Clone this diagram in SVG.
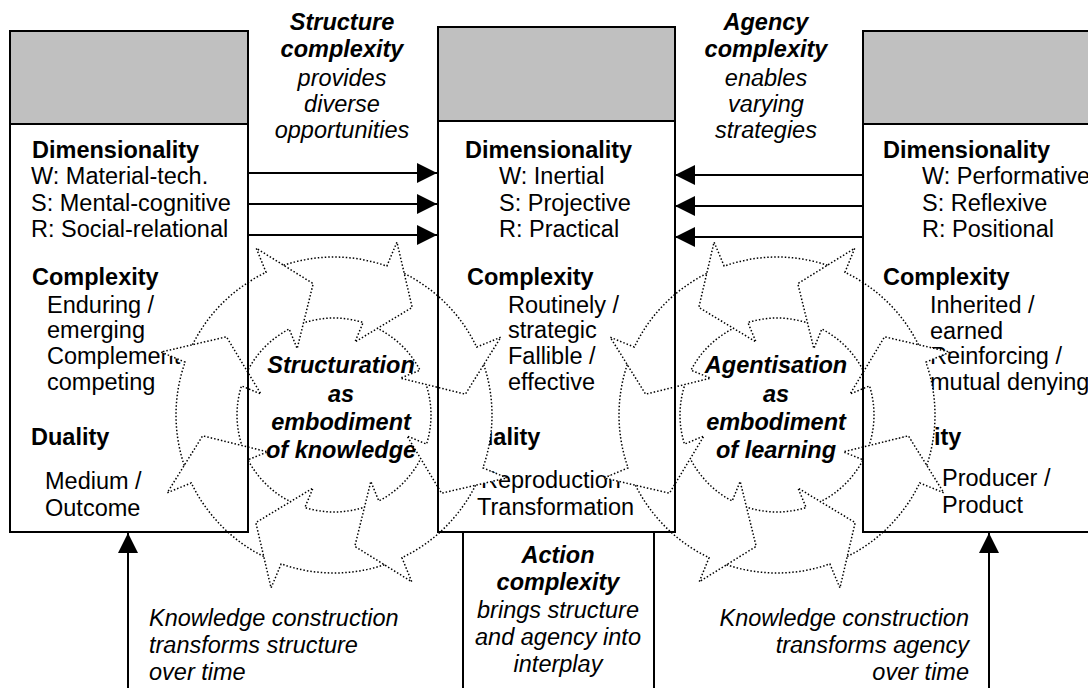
<svg xmlns="http://www.w3.org/2000/svg" width="1088" height="688" viewBox="0 0 1088 688">
  <style>
    text { font-family: "Liberation Sans", Arial, sans-serif; font-size: 23.5px; fill: #000; }
    .b { font-weight: bold; }
    .i { font-style: italic; }
    .bi { font-weight: bold; font-style: italic; }
    .mid { text-anchor: middle; }
    .end { text-anchor: end; }
    .panel { fill: #fff; }
    .cap { fill: #c0c0c0; }
    .frame { fill: none; stroke: #000; stroke-width: 2; }
    .flow { fill: none; stroke: #000; stroke-width: 2; }
    .seg-fill { fill: #fff; stroke: none; }
    .seg-line { fill: none; stroke: #000; stroke-width: 1.5; stroke-dasharray: 1.5 2; }
  </style>
  <defs>
    <marker id="ah" markerUnits="userSpaceOnUse" markerWidth="20" markerHeight="20" viewBox="0 0 20 20" refX="20" refY="10" orient="auto">
      <path d="M0,0 L20,10 L0,20 Z" fill="#000"/>
    </marker>
    <!-- one curved arrow of a cycle, head at angle 0, tail notched to the previous head at -45 deg -->
    <path id="seg-fill" class="seg-fill" d="M123.48,-98.57 A158,158 0 0 1 157.99,-1.27 L184,0 L127.85,36.66 L75.81,-5.30 L96.90,-4.27 A97,97 0 0 0 76.09,-60.16 L116.32,-64.48 Z"/>
    <path id="seg-line" class="seg-line" d="M123.48,-98.57 A158,158 0 0 1 157.99,-1.27 L184,0 L127.85,36.66 L75.81,-5.30 L96.90,-4.27 A97,97 0 0 0 76.09,-60.16"/>
    <g id="cycle">
      <use href="#seg-fill" transform="rotate(20)"/>
      <use href="#seg-fill" transform="rotate(65)"/>
      <use href="#seg-fill" transform="rotate(110)"/>
      <use href="#seg-fill" transform="rotate(155)"/>
      <use href="#seg-fill" transform="rotate(200)"/>
      <use href="#seg-fill" transform="rotate(245)"/>
      <use href="#seg-fill" transform="rotate(290)"/>
      <use href="#seg-fill" transform="rotate(335)"/>
      <use href="#seg-line" transform="rotate(20)"/>
      <use href="#seg-line" transform="rotate(65)"/>
      <use href="#seg-line" transform="rotate(110)"/>
      <use href="#seg-line" transform="rotate(155)"/>
      <use href="#seg-line" transform="rotate(200)"/>
      <use href="#seg-line" transform="rotate(245)"/>
      <use href="#seg-line" transform="rotate(290)"/>
      <use href="#seg-line" transform="rotate(335)"/>
    </g>
  </defs>

  <!-- Structure box -->
  <g id="structure">
    <rect class="panel" x="10" y="31" width="238" height="501"/>
    <rect class="cap" x="10" y="31" width="238" height="93"/>
    <text class="b" x="32" y="158">Dimensionality</text>
    <text x="31" y="184">W: Material-tech.</text>
    <text x="31" y="211">S: Mental-cognitive</text>
    <text x="31" y="237">R: Social-relational</text>
    <text class="b" x="32" y="285">Complexity</text>
    <text x="47" y="313">Enduring /</text>
    <text x="47" y="338">emerging</text>
    <text x="47" y="364">Complement</text>
    <text x="47" y="390">competing</text>
    <text class="b" x="31" y="445">Duality</text>
    <text x="45" y="489">Medium /</text>
    <text x="45" y="516">Outcome</text>
  </g>

  <!-- Action box -->
  <g id="action">
    <rect class="panel" x="438" y="27" width="237" height="505"/>
    <rect class="cap" x="438" y="27" width="237" height="94"/>
    <text class="b" x="465" y="158">Dimensionality</text>
    <text x="499" y="184">W: Inertial</text>
    <text x="499" y="211">S: Projective</text>
    <text x="499" y="237">R: Practical</text>
    <text class="b" x="467" y="285">Complexity</text>
    <text x="508" y="313">Routinely /</text>
    <text x="508" y="338">strategic</text>
    <text x="508" y="364">Fallible /</text>
    <text x="508" y="390">effective</text>
    <text class="b" x="462" y="445">Duality</text>
    <text x="481" y="488">Reproduction</text>
    <text x="477" y="515">Transformation</text>
  </g>

  <!-- Agency box -->
  <g id="agency">
    <rect class="panel" x="863" y="31" width="240" height="501"/>
    <rect class="cap" x="863" y="31" width="240" height="93"/>
    <text class="b" x="883" y="158">Dimensionality</text>
    <text x="922" y="184">W: Performative</text>
    <text x="922" y="211">S: Reflexive</text>
    <text x="922" y="237">R: Positional</text>
    <text class="b" x="883" y="285">Complexity</text>
    <text x="930" y="313">Inherited /</text>
    <text x="930" y="339">earned</text>
    <text x="930" y="364">Reinforcing /</text>
    <text x="930" y="390">mutual denying</text>
    <text class="b" x="883" y="445">Duality</text>
    <text x="942" y="486">Producer /</text>
    <text x="942" y="513">Product</text>
  </g>

  <!-- Action complexity panel below the action box -->
  <g id="action-complexity">
    <path class="frame" d="M463,532 V690 M654,532 V690"/>
    <text class="bi mid" x="558" y="563">Action</text>
    <text class="bi mid" x="558" y="590">complexity</text>
    <text class="i mid" x="558" y="618">brings structure</text>
    <text class="i mid" x="558" y="645">and agency into</text>
    <text class="i mid" x="558" y="672">interplay</text>
  </g>

  <!-- Labels between the boxes -->
  <g id="structure-complexity">
    <text class="bi mid" x="342" y="30">Structure</text>
    <text class="bi mid" x="342" y="57">complexity</text>
    <text class="i mid" x="342" y="86">provides</text>
    <text class="i mid" x="342" y="112">diverse</text>
    <text class="i mid" x="342" y="138">opportunities</text>
  </g>
  <g id="agency-complexity">
    <text class="bi mid" x="766" y="30">Agency</text>
    <text class="bi mid" x="766" y="57">complexity</text>
    <text class="i mid" x="766" y="86">enables</text>
    <text class="i mid" x="766" y="112">varying</text>
    <text class="i mid" x="766" y="138">strategies</text>
  </g>
  <g id="structure-construction">
    <text class="i" x="149" y="626">Knowledge construction</text>
    <text class="i" x="149" y="653">transforms structure</text>
    <text class="i" x="149" y="680">over time</text>
  </g>
  <g id="agency-construction">
    <text class="i end" x="969" y="626">Knowledge construction</text>
    <text class="i end" x="969" y="653">transforms agency</text>
    <text class="i end" x="969" y="680">over time</text>
  </g>

  <!-- Cycles: eight dotted curved arrows each, clockwise on the left, mirrored on the right -->
  <g id="structuration">
    <text class="bi mid" x="341" y="373">Structuration</text>
    <text class="bi mid" x="341" y="402">as</text>
    <text class="bi mid" x="341" y="430">embodiment</text>
    <text class="bi mid" x="341" y="458">of knowledge</text>
    <use href="#cycle" transform="translate(334,415)"/>
  </g>
  <g id="agentisation">
    <text class="bi mid" x="776" y="373">Agentisation</text>
    <text class="bi mid" x="776" y="402">as</text>
    <text class="bi mid" x="776" y="430">embodiment</text>
    <text class="bi mid" x="776" y="458">of learning</text>
    <use href="#cycle" transform="translate(777,415) scale(-1,1)"/>
  </g>

  <!-- Box outlines kept above the cycles -->
  <g id="outlines">
    <rect class="frame" x="10" y="31" width="238" height="501"/>
    <path class="frame" d="M10,124 H248"/>
    <rect class="frame" x="438" y="27" width="237" height="505"/>
    <path class="frame" d="M438,121 H675"/>
    <rect class="frame" x="863" y="31" width="240" height="501"/>
    <path class="frame" d="M863,124 H1100"/>
  </g>

  <!-- Connectors -->
  <g id="connectors">
    <path class="flow" d="M248,173 H437" marker-end="url(#ah)"/>
    <path class="flow" d="M248,204 H437" marker-end="url(#ah)"/>
    <path class="flow" d="M248,235 H437" marker-end="url(#ah)"/>
    <path class="flow" d="M863,175 H675" marker-end="url(#ah)"/>
    <path class="flow" d="M863,206 H675" marker-end="url(#ah)"/>
    <path class="flow" d="M863,237 H675" marker-end="url(#ah)"/>
    <path class="flow" d="M128,688 V533" marker-end="url(#ah)"/>
    <path class="flow" d="M989,688 V533" marker-end="url(#ah)"/>
  </g>
</svg>
